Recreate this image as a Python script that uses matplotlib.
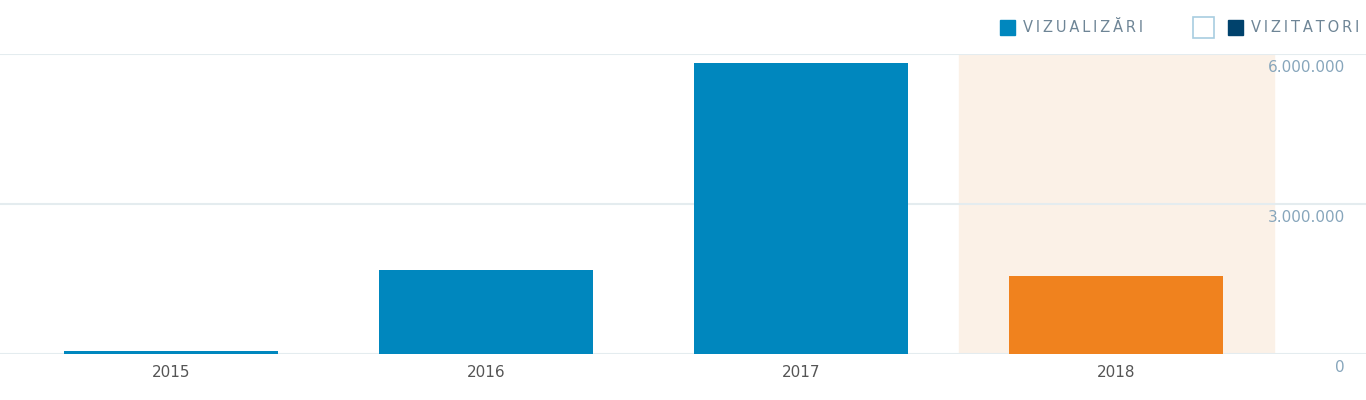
import matplotlib
matplotlib.use("Agg")
from matplotlib import pyplot as plt
from matplotlib.patches import Rectangle

years = ["2015", "2016", "2017", "2018"]
views = [60000, 1680000, 5820000, 1560000]
y_ticks = [0, 3000000, 6000000]
y_labels = ["0", "3.000.000", "6.000.000"]

blue = "#0087be"
orange = "#f0821e"
navy = "#00426c"
grid = "#e4ecef"
label_col = "#87a6bc"

fig = plt.figure(figsize=(13.66, 4.0), dpi=100)
ax = fig.add_axes([0, 46 / 400, 1, 300 / 400])

x = list(range(len(years)))
colors = [blue] * (len(years) - 1) + [orange]
ax.axvspan(2.5, 3.5, color="#fbf1e7", zorder=0)
ax.bar(x, views, width=214 / 315, color=colors, zorder=2)

ax.set_xlim(-171 / 315, (1366 - 171) / 315)
ax.set_ylim(0, 6000000)
for v in y_ticks:
    ax.axhline(v, color=grid, lw=1.5, zorder=1)

for s in ax.spines.values():
    s.set_visible(False)
ax.set_yticks([])
ax.set_xticks(x)
ax.set_xticklabels(years, fontsize=11, color="#555555")
ax.tick_params(axis="x", length=0, pad=8)

# value labels sit just below each grid line
for v, lab in zip(y_ticks, y_labels):
    ax.text(1345 / 1366, v - 120000, lab, transform=ax.get_yaxis_transform(),
            ha="right", va="top", fontsize=11, color=label_col)


def spaced(s):
    return "\u2009".join(s)


# legend
fig.patches.append(Rectangle((1000 / 1366, 1 - 35 / 400), 15 / 1366, 15 / 400,
                             transform=fig.transFigure, color=blue))
fig.text(1023 / 1366, 1 - 28 / 400, spaced("VIZUALIZĂRI"), fontsize=10.5,
         color="#6e8596", va="center")
fig.patches.append(Rectangle((1193 / 1366, 1 - 38 / 400), 21 / 1366, 21 / 400,
                             transform=fig.transFigure, facecolor="white",
                             edgecolor="#a8cde0", lw=1.2))
fig.patches.append(Rectangle((1228 / 1366, 1 - 35 / 400), 15 / 1366, 15 / 400,
                             transform=fig.transFigure, color=navy))
fig.text(1251 / 1366, 1 - 28 / 400, spaced("VIZITATORI"), fontsize=10.5,
         color="#6e8596", va="center")

fig.savefig("out.png", dpi=100)
